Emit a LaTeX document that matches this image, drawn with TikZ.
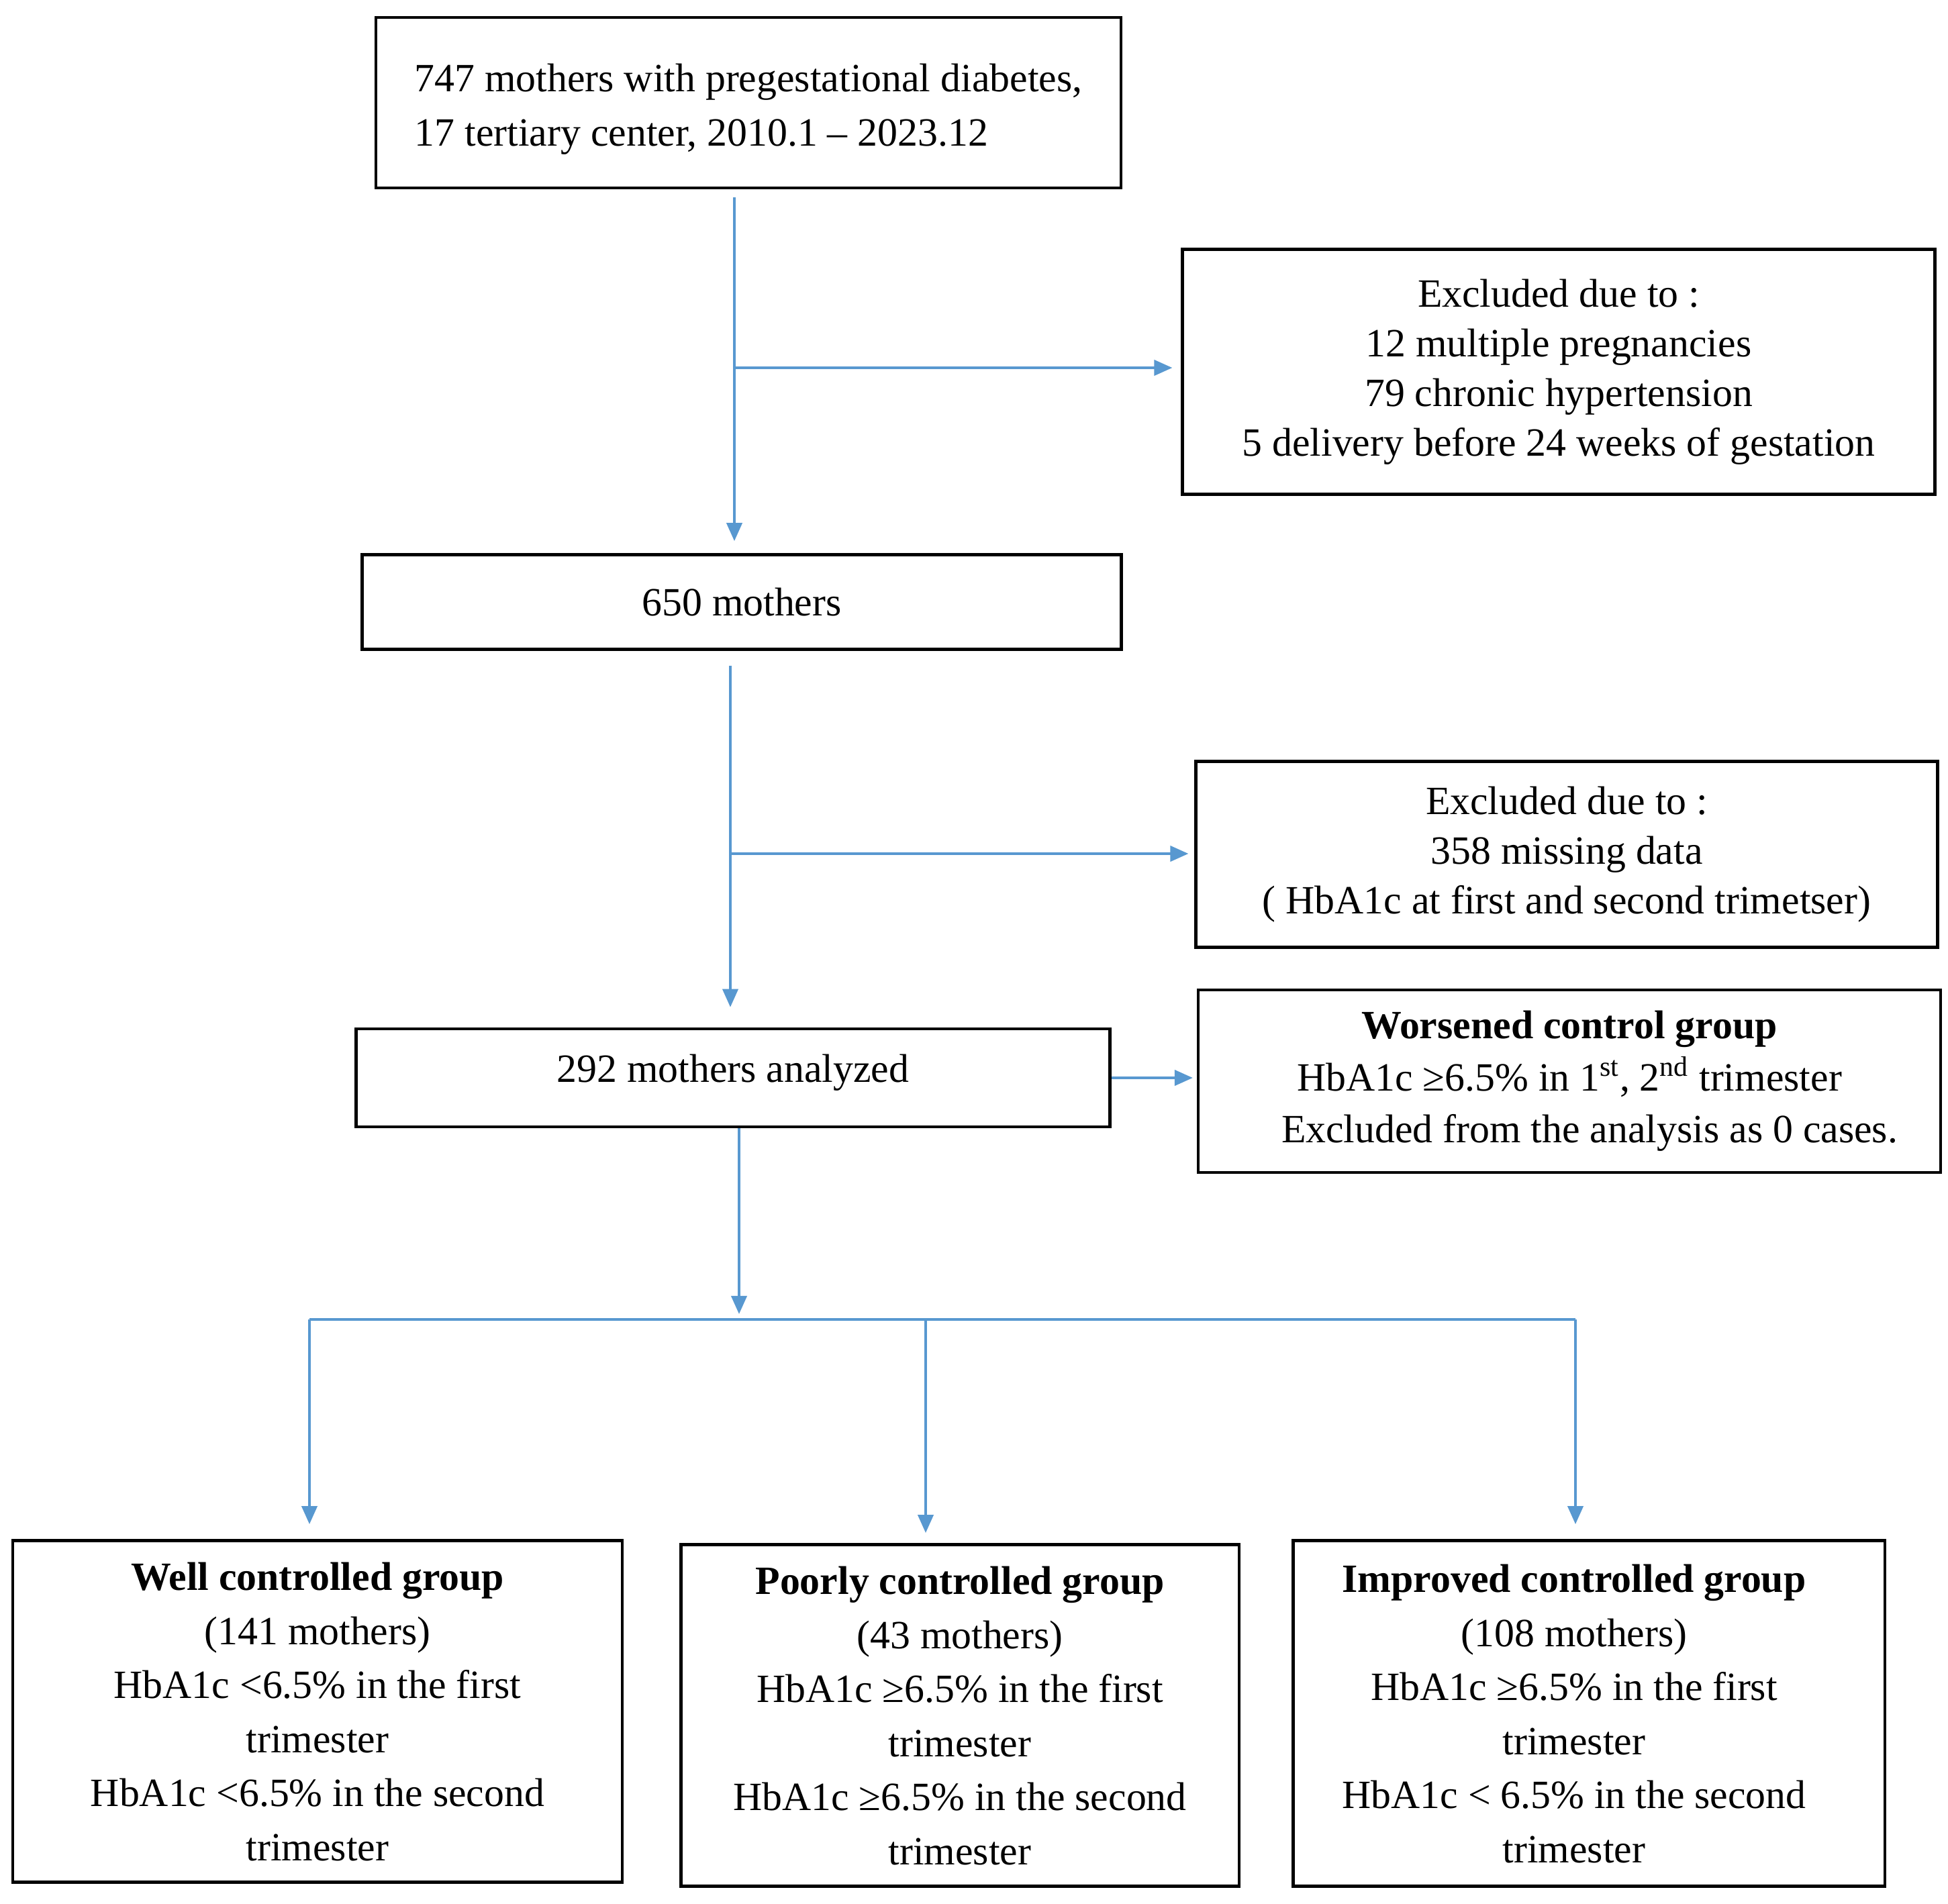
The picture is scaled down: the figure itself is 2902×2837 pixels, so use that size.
\documentclass[tikz,border=0pt]{standalone}
\usepackage{fontspec}
\setmainfont{Liberation Serif}
\usetikzlibrary{arrows.meta,calc}
\definecolor{connblue}{RGB}{88,152,208}
\tikzset{
  box/.style={draw=black, line width=0.045cm, inner sep=0pt, align=center,
    font=\fontsize{17pt}{22pt}\selectfont},
  grp/.style={box, font=\fontsize{17pt}{22.9pt}\selectfont},
  conn/.style={draw=connblue, line width=0.04cm},
  tip/.style={-{Triangle[length=0.27cm,width=0.23cm]}},
}
\begin{document}
\begin{tikzpicture}[x=0.01cm,y=-0.01cm]
\useasboundingbox (0,0) rectangle (2902,2837);

\node[box, minimum width=11.09cm, minimum height=2.54cm,
  font=\fontsize{17pt}{23pt}\selectfont] (b1) at (1115,153)
  {\raisebox{-0.08cm}[\height][\depth]{\begin{tabular}{@{}l@{}}747 mothers with pregestational diabetes,\\17 tertiary center, 2010.1 -- 2023.12\end{tabular}}};

\node[box, minimum width=11.20cm, minimum height=3.65cm,
  font=\fontsize{17pt}{21pt}\selectfont] (b2) at (2322,554)
  {Excluded due to :\\12 multiple pregnancies\\79 chronic hypertension\\5 delivery before 24 weeks of gestation};

\node[box, minimum width=11.30cm, minimum height=1.41cm] (b3) at (1105,897)
  {650 mothers};

\node[box, minimum width=11.04cm, minimum height=2.77cm,
  font=\fontsize{17pt}{21pt}\selectfont] (b4) at (2334,1273)
  {Excluded due to :\\358 missing data\\( HbA1c at first and second trimetser)};

\node[box, minimum width=11.22cm, minimum height=1.46cm] (b5) at (1092,1606)
  {\raisebox{-0.06cm}[0pt][0pt]{292 mothers analyzed}};

\node[box, minimum width=11.05cm, minimum height=2.72cm] (b6) at (2338,1611)
  {\textbf{Worsened control group}\\HbA1c ≥6.5\% in 1\textsuperscript{st}, 2\textsuperscript{nd} trimester\\\hspace*{0.6cm}Excluded from the analysis as 0 cases.};

\node[grp, minimum width=9.07cm, minimum height=5.09cm] (g1) at (473,2550)
  {\raisebox{-0.05cm}[\height][\depth]{\begin{tabular}{@{}c@{}}\textbf{Well controlled group}\\(141 mothers)\\HbA1c <6.5\% in the first\\trimester\\HbA1c <6.5\% in the second\\trimester\end{tabular}}};

\node[grp, minimum width=8.31cm, minimum height=5.09cm] (g2) at (1430,2556)
  {\raisebox{-0.05cm}[\height][\depth]{\begin{tabular}{@{}c@{}}\textbf{Poorly controlled group}\\(43 mothers)\\HbA1c ≥6.5\% in the first\\trimester\\HbA1c ≥6.5\% in the second\\trimester\end{tabular}}};

\node[grp, minimum width=8.81cm, minimum height=5.15cm] (g3) at (2367,2553)
  {\raisebox{-0.05cm}[\height][\depth]{\begin{tabular}{@{}c@{}}\textbf{Improved controlled group}\\(108 mothers)\\HbA1c ≥6.5\% in the first\\trimester\\HbA1c < 6.5\% in the second\\trimester\end{tabular}}\hspace*{0.44cm}};

\coordinate (j1) at (1094,548);
\coordinate (j2) at (1088,1272);
\coordinate (j3) at (1101,1966);
\coordinate (jL) at (461,1966);
\coordinate (jM) at (1379,1966);
\coordinate (jR) at (2347,1966);

\draw[conn, tip, shorten <=0.12cm, shorten >=0.18cm] (j1 |- b1.south) -- (j1 |- b3.north);
\draw[conn, tip, shorten >=0.13cm] (j1) -- (j1 -| b2.west);

\draw[conn, tip, shorten <=0.22cm, shorten >=0.30cm] (j2 |- b3.south) -- (j2 |- b5.north);
\draw[conn, tip, shorten >=0.09cm] (j2) -- (j2 -| b4.west);

\draw[conn, tip, shorten >=0.06cm] (b5.east) -- (b5.east -| b6.west);

\draw[conn, tip, shorten >=0.08cm] (j3 |- b5.south) -- (j3);
\draw[conn] (jL) -- (jR);
\draw[conn, tip, shorten >=0.22cm] (jL) -- (jL |- g1.north);
\draw[conn, tip, shorten >=0.15cm] (jM) -- (jM |- g2.north);
\draw[conn, tip, shorten >=0.22cm] (jR) -- (jR |- g3.north);
\end{tikzpicture}
\end{document}
